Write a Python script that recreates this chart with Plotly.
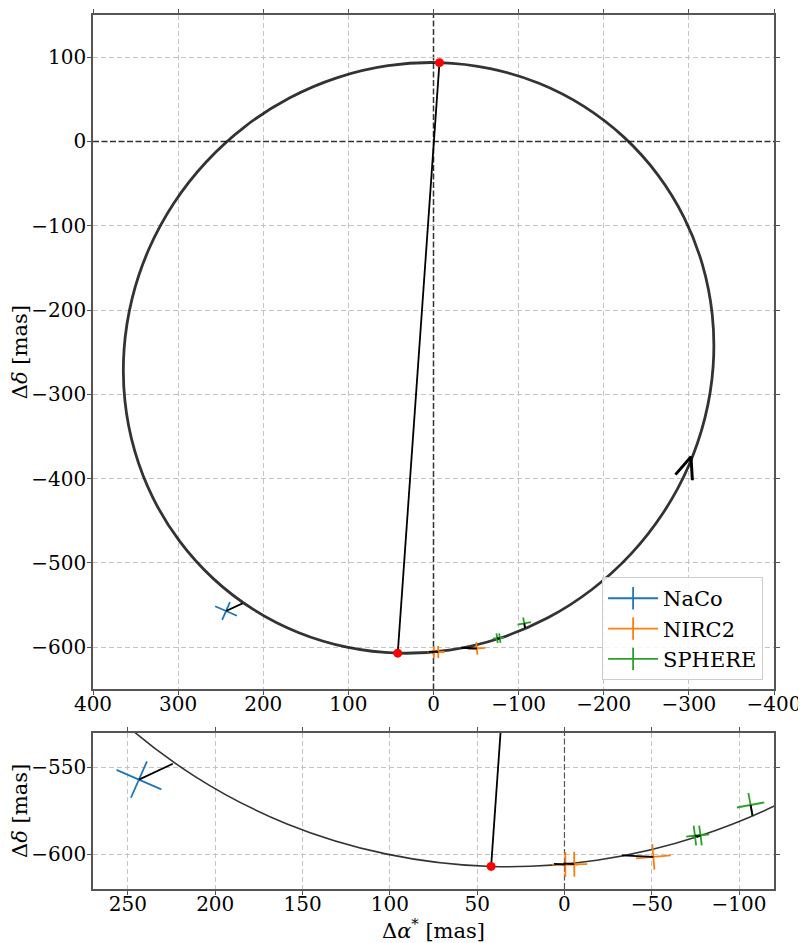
import numpy as np
import plotly.graph_objects as go

# best-fit orbit track, relative astrometry in mas (read every ~10 deg round the ellipse)
orbit_ra = [-7.0, -66.7, -123.9, -176.7, -223.7, -263.3, -294.4, -316.0, -327.5, -328.5,
            -319.0, -299.3, -269.9, -231.8, -186.1, -134.3, -77.8, -18.5, 42.0, 101.7,
            158.9, 211.7, 258.7, 298.3, 329.4, 351.0, 362.5, 363.5, 354.0, 334.3,
            304.9, 266.8, 221.1, 169.3, 112.8, 53.5, -7.0]
orbit_dec = [93.5, 86.4, 69.0, 41.6, 5.1, -39.3, -90.3, -146.4, -205.8, -266.8,
             -327.4, -385.9, -440.5, -489.6, -531.5, -565.1, -589.3, -603.4, -607.0, -599.9,
             -582.5, -555.1, -518.6, -474.2, -423.2, -367.1, -307.7, -246.8, -186.1, -127.6,
             -73.0, -24.0, 18.0, 51.6, 75.8, 89.9, 93.5]

# periastron / apastron
apsis_ra = [-7.0, 42.0]
apsis_dec = [93.5, -607.0]

# measurements: position, model position at the epoch, errors along sep and along PA
naco_ra = [243.7]
naco_dec = [-557.0]
naco_mod_ra = [224.3]
naco_mod_dec = [-547.9]
naco_err_sep = [11.4]
naco_err_tan = [14.0]

nirc2_ra = [-0.5, -5.6, -50.9]
nirc2_dec = [-605.9, -605.7, -601.5]
nirc2_mod_ra = [6.0, 0.5, -32.9]
nirc2_mod_dec = [-605.5, -605.3, -600.6]
nirc2_err_sep = [7.2, 7.2, 7.4]
nirc2_err_tan = [7.5, 7.5, 10.0]

sphere_ra = [-74.7, -77.9, -106.6]
sphere_dec = [-589.2, -589.2, -571.6]
sphere_mod_ra = [-76.5, -76.0, -107.7]
sphere_mod_dec = [-589.8, -590.0, -577.8]
sphere_err_sep = [5.7, 5.7, 7.0]
sphere_err_tan = [5.0, 5.0, 8.0]

instruments = [
    ("NaCo", "#1f77b4", naco_ra, naco_dec, naco_mod_ra, naco_mod_dec, naco_err_sep, naco_err_tan),
    ("NIRC2", "#ff7f0e", nirc2_ra, nirc2_dec, nirc2_mod_ra, nirc2_mod_dec, nirc2_err_sep, nirc2_err_tan),
    ("SPHERE", "#2ca02c", sphere_ra, sphere_dec, sphere_mod_ra, sphere_mod_dec, sphere_err_sep, sphere_err_tan),
]

# grid positions (the zero lines are drawn separately, dashed and darker)
top_x_grid = [-400, -300, -200, -100, 100, 200, 300, 400]
top_y_grid = [-600, -500, -400, -300, -200, -100, 100]
zoom_x_grid = [250, 200, 150, 100, 50, -50, -100]
zoom_y_grid = [-600, -550]

# direction-of-motion arrow on the orbit
arrow_tip = (-302.5, -374.0)
arrow_dir = 108.7  # deg, in (ra, dec) plane
arrow_len = 28.0
arrow_half = 22.0

FONT = "DejaVu Serif"


def cross(ra, dec, esep, etan):
    xs, ys = [], []
    for x, y, er, et in zip(ra, dec, esep, etan):
        r = np.hypot(x, y)
        ux, uy = x / r, y / r
        tx, ty = -uy, ux
        xs += [x - er * ux, x + er * ux, None, x - et * tx, x + et * tx, None]
        ys += [y - er * uy, y + er * uy, None, y - et * ty, y + et * ty, None]
    return xs, ys


def residuals(ra, dec, mra, mdec):
    xs, ys = [], []
    for a, b, c, d in zip(ra, dec, mra, mdec):
        xs += [a, c, None]
        ys += [b, d, None]
    return xs, ys


fig = go.Figure()

for xa, ya, lw in [("x", "y", 2.8), ("x2", "y2", 1.6)]:
    fig.add_trace(go.Scatter(
        x=orbit_ra, y=orbit_dec, mode="lines", xaxis=xa, yaxis=ya,
        line=dict(color="rgba(0,0,0,0.8)", width=lw, shape="spline"),
        showlegend=False, hoverinfo="skip"))
    fig.add_trace(go.Scatter(
        x=apsis_ra, y=apsis_dec, mode="lines", xaxis=xa, yaxis=ya,
        line=dict(color="black", width=1.8), showlegend=False, hoverinfo="skip"))
    for name, col, ra, dec, mra, mdec, es, et in instruments:
        cx, cy = cross(ra, dec, es, et)
        fig.add_trace(go.Scatter(
            x=cx, y=cy, mode="lines", xaxis=xa, yaxis=ya,
            line=dict(color=col, width=1.8), showlegend=False, hoverinfo="skip"))
    for name, col, ra, dec, mra, mdec, es, et in instruments:
        rx, ry = residuals(ra, dec, mra, mdec)
        fig.add_trace(go.Scatter(
            x=rx, y=ry, mode="lines", xaxis=xa, yaxis=ya,
            line=dict(color="black", width=1.8), showlegend=False, hoverinfo="skip"))
    fig.add_trace(go.Scatter(
        x=apsis_ra, y=apsis_dec, mode="markers", xaxis=xa, yaxis=ya,
        marker=dict(color="red", size=9), showlegend=False, hoverinfo="skip"))

# arrow head
th = np.radians(arrow_dir + 180)
hh = np.radians(arrow_half)
bx = [arrow_tip[0] + arrow_len * np.cos(th - hh), arrow_tip[0], arrow_tip[0] + arrow_len * np.cos(th + hh)]
by = [arrow_tip[1] + arrow_len * np.sin(th - hh), arrow_tip[1], arrow_tip[1] + arrow_len * np.sin(th + hh)]
fig.add_trace(go.Scatter(x=bx, y=by, mode="lines", line=dict(color="black", width=3),
                         showlegend=False, hoverinfo="skip"))

# legend entries
for name, col, *_ in instruments:
    fig.add_trace(go.Scatter(
        x=[None], y=[None], mode="lines+markers", name=name,
        line=dict(color=col, width=1.8),
        marker=dict(symbol="line-ns-open", size=16, color=col, line=dict(color=col, width=1.8))))

axis_style = dict(
    showline=True, mirror="ticks", linecolor="#555555", linewidth=1.5,
    ticks="outside", ticklen=4, tickcolor="#555555", showgrid=False,
    zeroline=False, tickfont=dict(family=FONT, size=20, color="black"),
)
title_font = dict(family=FONT, size=21, color="black")


def minor_grid(vals):
    return dict(tickvals=vals, ticks="", showgrid=True,
                gridcolor="#c4c4c4", griddash="5px,3px", gridwidth=1)


# the page body has an 8px margin, so the figure is sized to the visible area
fig.update_layout(
    width=798, height=935,
    margin=dict(l=84, r=32, t=1, b=54),
    plot_bgcolor="white", paper_bgcolor="white",
    font=dict(family=FONT, color="black"),
    xaxis=dict(axis_style, domain=[0, 1], anchor="y", range=[400, -400], dtick=100,
               minor=minor_grid(top_x_grid), ticklabelstandoff=-8),
    yaxis=dict(axis_style, domain=[0.2284, 1.0], anchor="x", range=[-650, 150], dtick=100,
               minor=minor_grid(top_y_grid), ticklabelstandoff=-3,
               title=dict(text="Δ<i>δ</i> [mas]", font=title_font, standoff=8)),
    xaxis2=dict(axis_style, domain=[0, 1], anchor="y2", range=[270, -120], dtick=50,
                minor=minor_grid(zoom_x_grid), ticklabelstandoff=-8,
                title=dict(text="Δ<i>α</i><sup>*</sup> [mas]", font=title_font, standoff=4)),
    yaxis2=dict(axis_style, domain=[0, 0.1788], anchor="x2", range=[-620, -530],
                tickvals=[-600, -550], minor=minor_grid(zoom_y_grid), ticklabelstandoff=-3,
                title=dict(text="Δ<i>δ</i> [mas]", font=title_font, standoff=8)),
    legend=dict(x=0.984, y=0.239, xanchor="right", yanchor="bottom", itemwidth=50,
                bgcolor="rgba(255,255,255,0.85)", bordercolor="#cccccc", borderwidth=1,
                font=dict(family=FONT, size=21, color="black")),
    shapes=[
        dict(type="line", xref="x", yref="y domain", x0=0, x1=0, y0=0, y1=1, layer="below",
             line=dict(color="#333333", width=1.5, dash="6px,2.5px")),
        dict(type="line", xref="x domain", yref="y", x0=0, x1=1, y0=0, y1=0, layer="below",
             line=dict(color="#333333", width=1.5, dash="6px,2.5px")),
        dict(type="line", xref="x2", yref="y2 domain", x0=0, x1=0, y0=0, y1=1, layer="below",
             line=dict(color="#555555", width=1.2, dash="6px,2.5px")),
    ],
)

fig.write_html("out.html")
